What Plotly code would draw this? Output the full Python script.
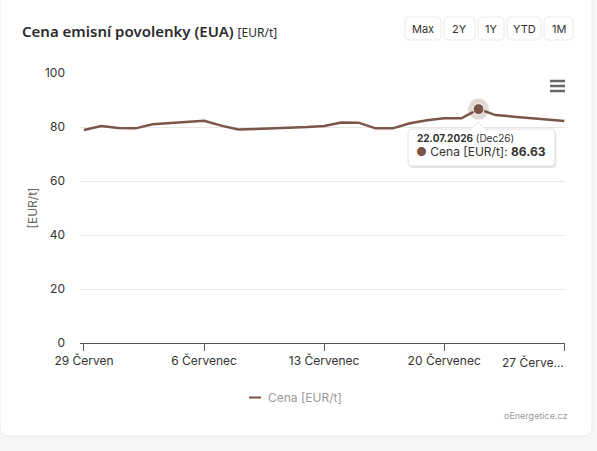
import plotly.graph_objects as go
import pandas as pd

# ---- data ----
dates = pd.date_range("2026-06-29", "2026-07-27", freq="D").strftime("%Y-%m-%d").tolist()
prices = [78.9, 80.4, 79.6, 79.5, 81.0, 81.4, 81.7, 82.3, 80.5, 79.1,
          79.3, 79.5, 79.8, 80.0, 80.4, 81.7, 81.6, 79.5, 79.5, 81.4,
          82.5, 83.2, 83.2, 86.63, 84.4, 83.8, 83.2, 82.7, 82.2]
series_name = "Cena [EUR/t]"
tick_dates = ["2026-06-29", "2026-07-06", "2026-07-13", "2026-07-20", "2026-07-27"]
tick_labels = ["29 Červen", "6 Červenec", "13 Červenec", "20 Červenec", ""]
last_tick_label = "27 Červe..."
y_ticks = [0, 20, 40, 60, 80, 100]
buttons = ["Max", "2Y", "1Y", "YTD", "1M"]
hover_idx = 23
hover_date_label = "22.07.2026"
contract = "Dec26"

W, H = 597, 451
L, R, T, B = 80, 32, 73, 108
PW, PH = W - L - R, H - T - B
LINE = "#7a5548"
FONT = "Inter"


def px(x):
    return (x - L) / PW


def py(y):
    return (H - B - y) / PH


def rrect(x0, y0, x1, y1, r):
    rx, ry = r / PW, r / PH
    a, b, c, d = px(x0), py(y0), px(x1), py(y1)
    return (f"M{a+rx},{b} L{c-rx},{b} Q{c},{b} {c},{b-ry} L{c},{d+ry} Q{c},{d} {c-rx},{d} "
            f"L{a+rx},{d} Q{a},{d} {a},{d+ry} L{a},{b-ry} Q{a},{b} {a+rx},{b} Z")


fig = go.Figure()
fig.add_trace(go.Scatter(x=dates, y=prices, mode="lines", name=series_name,
                         line=dict(color=LINE, width=2.5), showlegend=False, hoverinfo="skip"))
fig.add_trace(go.Scatter(x=[dates[hover_idx]], y=[prices[hover_idx]], mode="markers",
                         marker=dict(size=21, color="rgba(122,85,72,0.22)"), showlegend=False,
                         hoverinfo="skip"))
fig.add_trace(go.Scatter(x=[dates[hover_idx]], y=[prices[hover_idx]], mode="markers",
                         marker=dict(size=11, color=LINE, line=dict(color="#ffffff", width=1)),
                         showlegend=False, hoverinfo="skip"))

shapes = []
# card
shapes.append(dict(type="path", xref="paper", yref="paper", path=rrect(0, -20, 592, 436, 8),
                   fillcolor="#ffffff", line=dict(color="#e9e9e9", width=1), layer="below"))
# buttons
btn_x = [(405, 441), (444, 475), (478, 504), (507, 541), (544, 573)]
annotations = []
for (x0, x1), lab in zip(btn_x, buttons):
    shapes.append(dict(type="path", xref="paper", yref="paper", path=rrect(x0, 17, x1, 40, 5),
                       fillcolor="#ffffff", line=dict(color="#e8e8e8", width=1), layer="above"))
    annotations.append(dict(xref="paper", yref="paper", x=px((x0 + x1) / 2), y=py(28.5),
                            text=lab, showarrow=False, xanchor="center", yanchor="middle",
                            font=dict(family=FONT, size=11, color="#333333")))
# hamburger menu
for yy in (81, 86, 91):
    shapes.append(dict(type="line", xref="paper", yref="paper", x0=px(550), x1=px(565),
                       y0=py(yy), y1=py(yy), line=dict(color="#666666", width=2.5)))

# tooltip box with pointer
tx0, ty0, tx1, ty1 = 408, 129, 555, 166
pxp = 478


def tooltip_path(dx=0.0, dy=0.0):
    r = 4
    rx, ry = r / PW, r / PH
    a, b, c, d = px(tx0 + dx), py(ty0 + dy), px(tx1 + dx), py(ty1 + dy)
    p1, p2, tip = px(pxp - 7 + dx), px(pxp + 7 + dx), py(ty0 - 7 + dy)
    pm = px(pxp + dx)
    return (f"M{a+rx},{b} L{p1},{b} L{pm},{tip} L{p2},{b} L{c-rx},{b} Q{c},{b} {c},{b-ry} "
            f"L{c},{d+ry} Q{c},{d} {c-rx},{d} L{a+rx},{d} Q{a},{d} {a},{d+ry} L{a},{b-ry} Q{a},{b} {a+rx},{b} Z")


shapes.append(dict(type="path", xref="paper", yref="paper", path=tooltip_path(1.5, 2),
                   fillcolor="rgba(0,0,0,0.10)", line=dict(width=0), layer="above"))
shapes.append(dict(type="path", xref="paper", yref="paper", path=tooltip_path(),
                   fillcolor="#ffffff", line=dict(color="#e2e2e2", width=1), layer="above"))

annotations.append(dict(xref="paper", yref="paper", x=px(415), y=py(137.5), xanchor="left",
                        yanchor="middle", showarrow=False,
                        text=f"<b>{hover_date_label}</b> ({contract})",
                        font=dict(family=FONT, size=10, color="#333333")))
annotations.append(dict(xref="paper", yref="paper", x=px(414), y=py(151.5), xanchor="left",
                        yanchor="middle", showarrow=False,
                        text=f"<span style='color:{LINE}'>●</span> {series_name}: <b>{prices[hover_idx]:.2f}</b>",
                        font=dict(family=FONT, size=12, color="#333333")))

# title
annotations.append(dict(xref="paper", yref="paper", x=px(20), y=py(31), xanchor="left",
                        yanchor="middle", showarrow=False,
                        text="Cena emisní povolenky (EUA) <span style='font-size:12px;font-weight:400'>[EUR/t]</span>",
                        font=dict(family="Noto Sans", size=15, color="#2b2b2b", weight=600)))
# last x tick label (truncated)
annotations.append(dict(xref="paper", yref="paper", x=px(566), y=py(362), xanchor="right",
                        yanchor="middle", showarrow=False, text=last_tick_label,
                        font=dict(family=FONT, size=12, color="#333333")))
# legend
shapes.append(dict(type="line", xref="paper", yref="paper", x0=px(249), x1=px(261),
                   y0=py(397.5), y1=py(397.5), line=dict(color=LINE, width=2)))
annotations.append(dict(xref="paper", yref="paper", x=px(266), y=py(397.5), xanchor="left",
                        yanchor="middle", showarrow=False, text=series_name,
                        font=dict(family=FONT, size=12, color="#9a9a9a")))
# credit
annotations.append(dict(xref="paper", yref="paper", x=px(569), y=py(415), xanchor="right",
                        yanchor="middle", showarrow=False, text="oEnergetice.cz",
                        font=dict(family=FONT, size=9, color="#9a9a9a")))

fig.update_layout(
    width=W, height=H,
    margin=dict(l=L, r=R, t=T, b=B, pad=0),
    paper_bgcolor="#f6f6f6", plot_bgcolor="rgba(0,0,0,0)",
    font=dict(family=FONT, size=12, color="#333333"),
    shapes=shapes, annotations=annotations, showlegend=False,
    xaxis=dict(type="date", range=["2026-06-28 18:25", "2026-07-27 01:00"],
               tickvals=tick_dates, ticktext=tick_labels, tickmode="array",
               showgrid=False, zeroline=False, showline=True, linecolor="#555555", linewidth=1,
               ticks="outside", ticklen=7, tickcolor="#555555", tickwidth=1,
               tickfont=dict(family=FONT, size=12, color="#333333")),
    yaxis=dict(range=[0, 100], tickvals=y_ticks, showgrid=True, gridcolor="#e6e6e6", gridwidth=1,
               zeroline=False, showline=False, ticks="", ticklabelstandoff=14,
               tickfont=dict(family=FONT, size=12, color="#333333"),
               title=dict(text="[EUR/t]", standoff=4,
                          font=dict(family=FONT, size=12, color="#666666"))),
)

fig.write_html("out.html", config={"displayModeBar": False},
               post_script="document.body.style.margin='0';document.body.style.overflow='hidden';")
